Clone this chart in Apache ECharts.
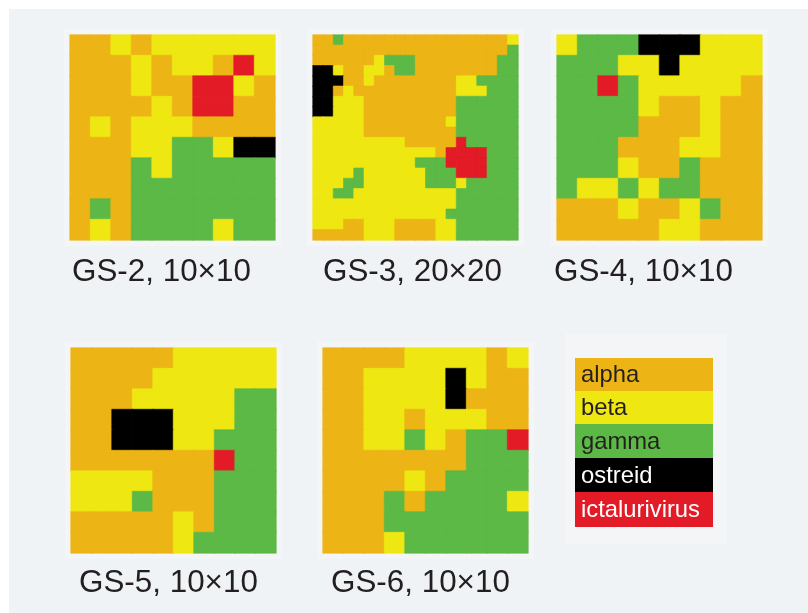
<!DOCTYPE html>
<html><head><meta charset="utf-8">
<style>html,body{margin:0;padding:0;background:#fff}#c{width:808px;height:613px}</style>
<script src="https://cdn.jsdelivr.net/npm/echarts@6/dist/echarts.min.js"></script>
</head><body><div id="c"></div>
<script>
const categories = ['alpha','beta','gamma','ostreid','ictalurivirus'];
const catColors = ['#edb415','#eee711','#5cb946','#000000','#e21b26'];
const catCodes = 'abgkr';
const titles = ['GS-2, 10×10','GS-3, 20×20','GS-4, 10×10','GS-5, 10×10','GS-6, 10×10'];
const gs2 = [
'aababbbbbb',
'aaababbarb',
'aaabaarrba',
'aaaabarraa',
'ababbbaaaa',
'aaabbggbkk',
'aaagbggggg',
'aaaggggggg',
'agaggggggg',
'abaggggbgg'];
const gs3 = [
'aagaaaaaaaaaaaaaaaab',
'aaaaaaaaaaaaaaaaaaag',
'aaaaaabgggaaaaaaaagg',
'kkbaabbaggaaaaaaaagg',
'kkkaabaaaaaaaabbgggg',
'kkabaaaaaaaaaabbbggg',
'kkbbbaaaaaaaaagggggg',
'kkbbbaaaaaaaaagggggg',
'bbbbbaaaaaaaabgggggg',
'bbbbbaaaaaaaaagggggg',
'bbbbbbbbbaaaaargggggg'.slice(0,20),
'bbbbbbbbbbbbarrrrggg',
'bbbbbbbbbbgggrrrrggg',
'bbbbgbbbbbbgggrrrggg',
'bbbggbbbbbbgggbggggg',
'bbggbbbbbbbbbbgggggg',
'bbbbbbbbbbbbbbgggggg',
'bbbbbbbbbbbbbggggggg',
'bbbaabbbaaaabbgggggg',
'aaaaabbbaaaabbgggggg'];
const gs4 = [
'bgggkkkbbb',
'gggbbkbbbb',
'ggrgbbbbba',
'ggggbaabaa',
'ggggaaabaa',
'gggaaabbaa',
'gggbaagaaa',
'gbbgbggaaa',
'aaabaabgaa',
'aaaaabbaaa'];
const gs5 = [
'aaaaabbbbb',
'aaaabbbbbb',
'aaabbbbbgg',
'aakkkbbbgg',
'aakkkbbggg',
'aaaaaaargg',
'bbbbaaaggg',
'bbbgaaaggg',
'aaaaabaggg',
'aaaaabgggg'];
const gs6 = [
'aaaabbbbab',
'aabbbbkbaa',
'aabbbbkaaa',
'aabbabbbaa',
'aabbgbaggr',
'aaaaaaaggg',
'aaaabagggg',
'aaagaggggb',
'aaaggggggg',
'aaabgggggg'];
const panelGrids = [gs2,gs3,gs4,gs5,gs6];
const pageBg = '#f0f3f5';
const haloBg = '#f3f5f7';
const boxes = [[70,35],[313,35],[557,35],[71,348],[323,348]];
const boxSize = 205;
const labelPos = [[72,272],[323,272],[554,272],[79,583],[331,583]];

const grid=[],xAxis=[],yAxis=[],series=[];
panelGrids.forEach((rows,i)=>{
  const n=rows.length, idx=[...Array(n).keys()];
  grid.push({left:boxes[i][0],top:boxes[i][1],width:boxSize,height:boxSize,show:false});
  xAxis.push({type:'category',gridIndex:i,data:idx,show:false});
  yAxis.push({type:'category',gridIndex:i,data:idx,inverse:true,show:false});
  const data=[];
  rows.forEach((r,y)=>[...r].forEach((ch,x)=>{
    const c=catCodes.indexOf(ch);
    data.push({value:[x,y,c],itemStyle:{borderColor:catColors[c],borderWidth:0.6}});
  }));
  series.push({type:'heatmap',xAxisIndex:i,yAxisIndex:i,data,silent:true,progressive:0,animation:false,
    emphasis:{disabled:true}});
});
const graphics=[
 {type:'rect',z:-10,shape:{x:9,y:9,width:799,height:604},style:{fill:pageBg},silent:true}
];
boxes.forEach(b=>graphics.push({type:'rect',z:-5,shape:{x:b[0]-6,y:b[1]-6,width:boxSize+12,height:boxSize+12},style:{fill:haloBg},silent:true}));
graphics.push({type:'rect',z:-5,shape:{x:565,y:334,width:162,height:210},style:{fill:haloBg},silent:true});
const legY=[358,391,424,458,492,527];
categories.forEach((c,i)=>{
  graphics.push({type:'rect',z:1,shape:{x:575,y:legY[i],width:138,height:legY[i+1]-legY[i]},style:{fill:catColors[i]},silent:true});
  graphics.push({type:'text',z:2,x:581,y:(legY[i]+legY[i+1])/2+1,style:{text:c,fill:i>=3?'#fff':'#231f20',font:'23.8px "Liberation Sans"',textVerticalAlign:'middle'},silent:true});
});
titles.forEach((t,i)=>graphics.push({type:'text',z:2,x:labelPos[i][0],y:labelPos[i][1],style:{text:t,fill:'#231f20',font:'31.4px "Liberation Sans"',textVerticalAlign:'middle'},silent:true}));

const chart=echarts.init(document.getElementById('c'),null,{renderer:'canvas'});
chart.setOption({animation:false,backgroundColor:'#fff',grid,xAxis,yAxis,series,
  visualMap:{type:'piecewise',show:false,dimension:2,seriesIndex:[0,1,2,3,4],
    pieces:catColors.map((color,value)=>({value,color}))},
  graphic:graphics});
</script></body></html>
